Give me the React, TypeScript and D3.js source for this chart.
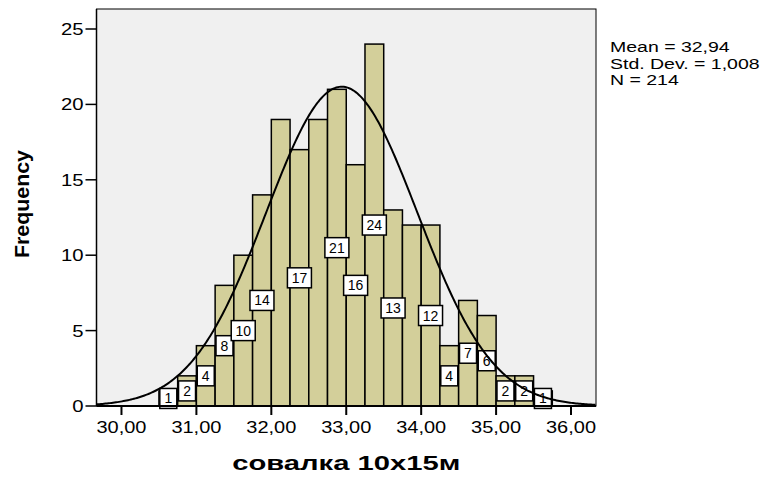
import React from 'react';
import * as d3 from 'd3';

// histogram bins (lower edge of each 0.25 wide bin) and counts
const binStarts = [30.5, 30.75, 31.0, 31.25, 31.5, 31.75, 32.0, 32.25, 32.5, 32.75, 33.0,
    33.25, 33.5, 33.75, 34.0, 34.25, 34.5, 34.75, 35.0, 35.25, 35.5];
const counts = [1, 2, 4, 8, 10, 14, 19, 17, 19, 21, 16, 24, 13, 12, 12, 4, 7, 6, 2, 2, 1];
// SPSS hid some labels that overlapped
const showLabel = [true, true, true, true, true, true, false, true, false, true, true,
    true, true, false, true, true, true, true, true, true, true];
const binWidth = 0.25;

const xTicks = [30, 31, 32, 33, 34, 35, 36];
const yTicks = [0, 5, 10, 15, 20, 25];

const mean = 32.94;
const stdDev = 1.008;
const n = 214;
const statLines = ['Mean = 32,94', 'Std. Dev. = 1,008', 'N = 214'];

const width = 779;
const height = 479;
const plot = { left: 96.5, right: 596, top: 9, bottom: 406 };
const font = '"Liberation Sans", Arial, sans-serif';

const fmt = (v: number) => v.toFixed(2).replace('.', ',');

const App: React.FC = () => {
    const x = d3.scaleLinear().domain([29.6667, 36.3333]).range([plot.left, plot.right]);
    const y = d3.scaleLinear().domain([0, 25 * (406 - 9) / (406 - 29)]).range([plot.bottom, plot.top]);

    // normal curve from the reported stats, scaled to counts per bin
    const [x0, x1] = x.domain();
    const curvePts = d3.range(x0, x1 + 0.001, 0.02).map(v => {
        const z = (v - mean) / stdDev;
        return [v, n * binWidth * Math.exp(-0.5 * z * z) / (stdDev * Math.sqrt(2 * Math.PI))] as [number, number];
    });
    const line = d3.line<[number, number]>().x(d => x(d[0])).y(d => y(d[1]));

    return (
        <svg width={width} height={height} style={{ position: 'absolute', left: 0, top: 0, background: '#fff' }}>
            <rect x={plot.left} y={plot.top} width={plot.right - plot.left} height={plot.bottom - plot.top}
                fill="#f0f0f0" stroke="#000" strokeWidth={1} />

            {/* bars */}
            {binStarts.map((b, i) => (
                <rect key={'b' + i} x={x(b)} y={y(counts[i])} width={x(b + binWidth) - x(b)}
                    height={y(0) - y(counts[i])} fill="#d3cf9a" stroke="#000" strokeWidth={1.5} />
            ))}

            {/* value labels */}
            {binStarts.map((b, i) => {
                if (!showLabel[i]) return null;
                const txt = String(counts[i]);
                const w = txt.length > 1 ? 24 : 17;
                const cx = x(b + binWidth / 2);
                const cy = y(counts[i] / 2);
                return (
                    <g key={'l' + i}>
                        <rect x={cx - w / 2} y={cy - 10} width={w} height={20} fill="#fff" stroke="#000" strokeWidth={1.5} />
                        <text x={cx} y={cy + 5} textAnchor="middle" fontFamily={font} fontSize={14} fill="#000">{txt}</text>
                    </g>
                );
            })}

            <path d={line(curvePts) || ''} fill="none" stroke="#000" strokeWidth={2} />

            {/* axes */}
            <line x1={plot.left} x2={plot.right} y1={plot.bottom} y2={plot.bottom} stroke="#000" strokeWidth={2} />
            <line x1={plot.left} x2={plot.left} y1={plot.top} y2={plot.bottom} stroke="#000" strokeWidth={1.5} />
            {xTicks.map(t => (
                <g key={'xt' + t}>
                    <line x1={x(t)} x2={x(t)} y1={plot.bottom} y2={plot.bottom + 9} stroke="#000" strokeWidth={2} />
                    <text x={x(t)} y={433} textAnchor="middle" fontFamily={font} fontSize={16}
                        textLength={50} lengthAdjust="spacingAndGlyphs">{fmt(t)}</text>
                </g>
            ))}
            {yTicks.map(t => (
                <g key={'yt' + t}>
                    <line x1={plot.left - 11} x2={plot.left} y1={y(t)} y2={y(t)} stroke="#000" strokeWidth={1.5} />
                    <text transform={`translate(${plot.left - 13},${y(t) + 6}) scale(1.27,1)`} textAnchor="end"
                        fontFamily={font} fontSize={16}>{t}</text>
                </g>
            ))}

            <text x={x(33)} y={470} textAnchor="middle" fontFamily={font} fontSize={20} fontWeight="bold"
                textLength={228} lengthAdjust="spacingAndGlyphs">совалка 10х15м</text>
            <text transform="translate(29,204) rotate(-90)" textAnchor="middle" fontFamily={font} fontSize={21}
                fontWeight="bold" textLength={108} lengthAdjust="spacingAndGlyphs">Frequency</text>

            {statLines.map((s, i) => (
                <text key={s} transform={`translate(610,${52 + i * 16.5}) scale(1.3,1)`} fontFamily={font} fontSize={15}>{s}</text>
            ))}
        </svg>
    );
};

export default App;
